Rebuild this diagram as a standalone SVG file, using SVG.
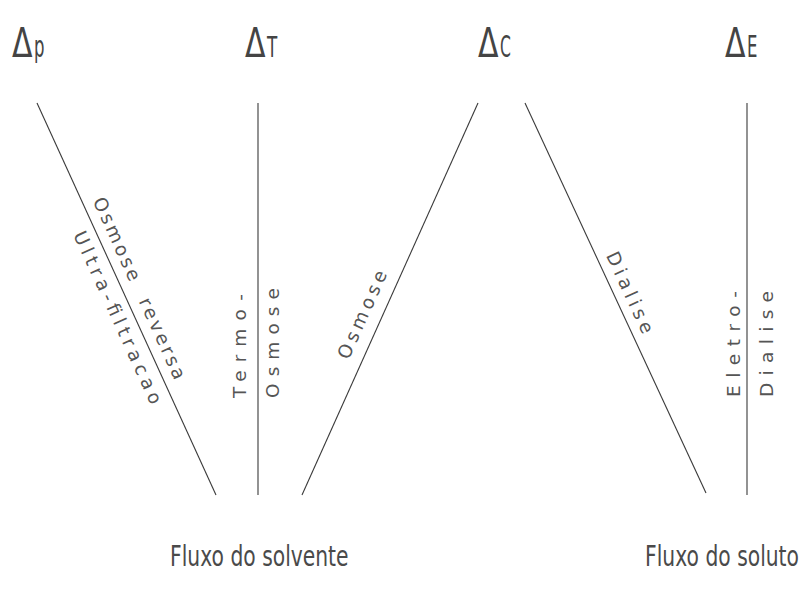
<svg xmlns="http://www.w3.org/2000/svg" width="805" height="592" viewBox="0 0 805 592">
<style>
.bg{fill:#ffffff}
.ln{stroke:#3a3a3a;stroke-width:1.1;fill:none}
.hd{font-family:"DejaVu Sans","Liberation Sans",sans-serif;fill:#444444}
.lb{font-family:"DejaVu Sans","Liberation Sans",sans-serif;font-size:18.5px;fill:#555555;white-space:pre}
.ft{font-family:"DejaVu Sans","Liberation Sans",sans-serif;font-size:29px;fill:#4a4a4a;white-space:pre}
</style>
<rect class="bg" x="0" y="0" width="805" height="592"/>
<g id="headers">
  <g id="dp">
    <text class="hd" font-size="40" transform="translate(12,57) scale(0.75,1)">Δ</text>
    <text class="hd" font-size="30" transform="translate(34,57) scale(0.55,1)">p</text>
  </g>
  <g id="dt">
    <text class="hd" font-size="40" transform="translate(245,57) scale(0.75,1)">Δ</text>
    <text class="hd" font-size="28" transform="translate(267,57) scale(0.6,1)">T</text>
  </g>
  <g id="dc">
    <text class="hd" font-size="40" transform="translate(478,57) scale(0.75,1)">Δ</text>
    <text class="hd" font-size="30" transform="translate(500,57) scale(0.52,1)">C</text>
  </g>
  <g id="de">
    <text class="hd" font-size="40" transform="translate(725,57) scale(0.75,1)">Δ</text>
    <text class="hd" font-size="30" transform="translate(747,57) scale(0.55,1)">E</text>
  </g>
</g>
<g id="connectors">
  <line class="ln" x1="37" y1="103" x2="216" y2="495"/>
  <line class="ln" x1="258" y1="103" x2="258" y2="495"/>
  <line class="ln" x1="302" y1="495" x2="478" y2="103"/>
  <line class="ln" x1="525" y1="103" x2="706" y2="493"/>
  <line class="ln" x1="747" y1="103" x2="747" y2="495"/>
</g>
<g id="labels">
  <g id="osmose-reversa" transform="translate(124.6,295) rotate(65.46)"><text class="lb" x="0" y="-10" text-anchor="middle" textLength="198" lengthAdjust="spacing">Osmose  reversa</text></g>
  <g id="ultra-filtracao" transform="translate(132,311) rotate(65.46)"><text class="lb" x="0" y="22" text-anchor="middle" textLength="188" lengthAdjust="spacing">Ultra-filtracao</text></g>
  <g id="termo-osmose">
    <text class="lb" transform="translate(246,346) rotate(-90)" x="0" y="0" text-anchor="middle" textLength="104" lengthAdjust="spacing">Termo-</text>
    <text class="lb" transform="translate(279,343) rotate(-90)" x="0" y="0" text-anchor="middle" textLength="110" lengthAdjust="spacing">Osmose</text>
  </g>
  <g id="osmose" transform="translate(379,322) rotate(-65.82)"><text class="lb" x="0" y="-12" text-anchor="middle" textLength="95" lengthAdjust="spacing">Osmose</text></g>
  <g id="dialise" transform="translate(616,299) rotate(65.1)"><text class="lb" x="0" y="-9" text-anchor="middle" textLength="88" lengthAdjust="spacing">Dialise</text></g>
  <g id="eletro-dialise">
    <text class="lb" transform="translate(740,344) rotate(-90)" x="0" y="0" text-anchor="middle" textLength="106" lengthAdjust="spacing">Eletro-</text>
    <text class="lb" transform="translate(773,344) rotate(-90)" x="0" y="0" text-anchor="middle" textLength="106" lengthAdjust="spacing">Dialise</text>
  </g>
</g>
<g id="footers">
  <g id="fluxo-solvente"><text class="ft" transform="translate(170,566) scale(0.7,1)">Fluxo do solvente</text></g>
  <g id="fluxo-soluto"><text class="ft" transform="translate(645,566) scale(0.7,1)">Fluxo do soluto</text></g>
</g>
</svg>
